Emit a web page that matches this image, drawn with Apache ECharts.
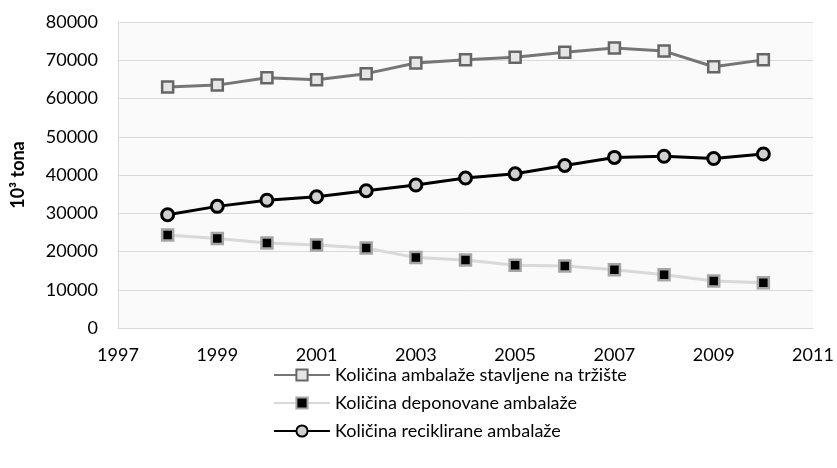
<!DOCTYPE html>
<html>
<head>
<meta charset="utf-8">
<script src="https://cdn.jsdelivr.net/npm/echarts@6/dist/echarts.min.js"></script>
<style>
  html, body { margin: 0; padding: 0; background: #fff; }
  #chart { width: 837px; height: 468px; }
</style>
</head>
<body>
<div id="chart"></div>
<script>
const years = [1998, 1999, 2000, 2001, 2002, 2003, 2004, 2005, 2006, 2007, 2008, 2009, 2010]
const seriesNames = [
  'Količina ambalaže stavljene na tržište',
  'Količina deponovane ambalaže',
  'Količina reciklirane ambalaže',
]
const naTrziste = [63000, 63500, 65400, 64900, 66500, 69300, 70100, 70800, 72100, 73200, 72400, 68300, 70100]
const deponovano = [24300, 23400, 22200, 21700, 20900, 18400, 17800, 16400, 16200, 15200, 13900, 12300, 11800]
const reciklirano = [29600, 31800, 33400, 34300, 35900, 37400, 39200, 40300, 42500, 44600, 44900, 44300, 45500]

const pairs = (vals) => years.map((y, i) => [y, vals[i]])

const chart = echarts.init(document.getElementById('chart'))
const font = 'Lato, "Open Sans", sans-serif'

const options = {
  animation: false,
  backgroundColor: '#fff',
  textStyle: { fontFamily: font },
  grid: {
    left: 118,
    right: 24,
    top: 22,
    bottom: 140,
    show: true,
    backgroundColor: '#fafafa',
    borderWidth: 0,
  },
  xAxis: {
    type: 'value',
    min: 1997,
    max: 2011,
    interval: 2,
    axisLine: { show: true, lineStyle: { color: '#d9d9d9', width: 1 } },
    axisTick: { show: false },
    splitLine: { show: false },
    axisLabel: {
      color: '#000',
      fontSize: 18,
      fontFamily: font,
      margin: 18,
      formatter: (v) => String(v),
    },
  },
  yAxis: {
    type: 'value',
    min: 0,
    max: 80000,
    interval: 10000,
    name: '10³ tona',
    nameLocation: 'middle',
    nameGap: 91,
    nameTextStyle: { color: '#000', fontSize: 18, fontWeight: 'bold', fontFamily: font },
    axisLine: { show: true, lineStyle: { color: '#d9d9d9', width: 1 } },
    axisTick: { show: false },
    splitLine: { show: true, lineStyle: { color: '#d9d9d9', width: 1 } },
    axisLabel: {
      color: '#000',
      fontSize: 18,
      fontFamily: font,
      margin: 20,
      formatter: (v) => String(v),
    },
  },
  legend: {
    orient: 'vertical',
    left: 268,
    top: 361,
    itemGap: 10,
    itemWidth: 56,
    itemHeight: 14,
    textStyle: { color: '#000', fontSize: 18, fontFamily: font },
    data: seriesNames,
  },
  series: [
    {
      name: seriesNames[0],
      type: 'line',
      data: pairs(naTrziste),
      symbol: 'rect',
      symbolSize: 11,
      lineStyle: { color: '#767676', width: 3 },
      itemStyle: { color: '#e6e6e6', borderColor: '#666', borderWidth: 2.5 },
    },
    {
      name: seriesNames[1],
      type: 'line',
      data: pairs(deponovano),
      symbol: 'rect',
      symbolSize: 11,
      lineStyle: { color: '#d9d9d9', width: 3 },
      itemStyle: { color: '#000', borderColor: '#a6a6a6', borderWidth: 2.5 },
    },
    {
      name: seriesNames[2],
      type: 'line',
      data: pairs(reciklirano),
      symbol: 'circle',
      symbolSize: 12,
      lineStyle: { color: '#000', width: 3 },
      itemStyle: { color: '#d0d0d0', borderColor: '#000', borderWidth: 3 },
    },
  ],
}

chart.setOption(options)
</script>
</body>
</html>
